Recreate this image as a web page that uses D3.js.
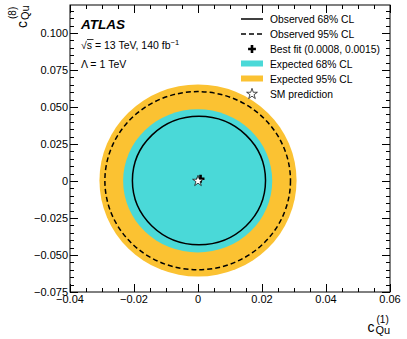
<!DOCTYPE html>
<html><head><meta charset="utf-8">
<script src="https://cdn.jsdelivr.net/npm/d3@7"></script>
<style>
body{margin:0;background:#fff;}
svg{display:block;font-family:"Liberation Sans",Arial,Helvetica,sans-serif;}
</style></head>
<body>
<svg id="c" width="407" height="339"></svg>
<script>
// ---- data ----
const xTicks = [-0.04, -0.02, 0, 0.02, 0.04, 0.06];
const xTickLabels = ["\u22120.04", "\u22120.02", "0", "0.02", "0.04", "0.06"];
const yTicks = [-0.075, -0.05, -0.025, 0, 0.025, 0.05, 0.075, 0.1];
const yTickLabels = ["\u22120.075", "\u22120.050", "\u22120.025", "0", "0.025", "0.050", "0.075", "0.100"];

// contours (ellipses): expected 95, expected 68, observed 95, observed 68
const contourNames = ["Expected 95% CL", "Expected 68% CL", "Observed 95% CL", "Observed 68% CL"];
const contourCx = [0.0000, -0.0001, -0.0001, 0.0003];
const contourCy = [0.0003, 0.0001, 0.0002, 0.0003];
const contourRx = [0.0308, 0.0233, 0.0290, 0.0208];
const contourRy = [0.0649, 0.0484, 0.0602, 0.0434];

const bestFit = [0.0008, 0.0015];
const smPoint = [0, 0];

const legendLabels = ["Observed 68% CL", "Observed 95% CL", "Best fit (0.0008, 0.0015)", "Expected 68% CL", "Expected 95% CL", "SM prediction"];

// ---- drawing ----
const cyan = "#4ad9d8", orange = "#fbc232";
const svg = d3.select("#c");
const L = 70, R = 390, T = 5, B = 292;
const x = d3.scaleLinear().domain([-0.04, 0.06]).range([L, R]);
const y = d3.scaleLinear().domain([-0.075, 0.1 + 28 / 1480]).range([B, T]);

const g = svg.append("g");
const fills = [orange, cyan];
[0, 1].forEach(i => {
  g.append("ellipse")
    .attr("cx", x(contourCx[i])).attr("cy", y(contourCy[i]))
    .attr("rx", x(contourRx[i]) - x(0)).attr("ry", y(0) - y(contourRy[i]))
    .attr("fill", fills[i]);
});
g.append("ellipse")
  .attr("cx", x(contourCx[2])).attr("cy", y(contourCy[2]))
  .attr("rx", x(contourRx[2]) - x(0)).attr("ry", y(0) - y(contourRy[2]))
  .attr("fill", "none").attr("stroke", "#000").attr("stroke-width", 1.5)
  .attr("stroke-dasharray", "5,3");
g.append("ellipse")
  .attr("cx", x(contourCx[3])).attr("cy", y(contourCy[3]))
  .attr("rx", x(contourRx[3]) - x(0)).attr("ry", y(0) - y(contourRy[3]))
  .attr("fill", "none").attr("stroke", "#000").attr("stroke-width", 1.5);

const cross = d3.symbol().type(d3.symbolCross).size(34);
const star = d3.symbol().type(d3.symbolStar).size(36);
g.append("path").attr("d", cross()).attr("transform", `translate(${x(bestFit[0])},${y(bestFit[1])})`).attr("fill", "#000");
g.append("path").attr("d", star()).attr("transform", `translate(${x(smPoint[0])},${y(smPoint[1])})`)
  .attr("fill", "#fff").attr("stroke", "#000").attr("stroke-width", 0.7);

svg.append("rect").attr("x", L).attr("y", T).attr("width", R - L).attr("height", B - T)
  .attr("fill", "none").attr("stroke", "#000").attr("stroke-width", 1);

const ax = svg.append("g").attr("stroke", "#000").attr("stroke-width", 1);
const xMinor = d3.range(-0.04, 0.0601, 0.005);
xMinor.forEach(v => {
  const isMajor = Math.abs(Math.round(v / 0.02) * 0.02 - v) < 1e-9;
  const len = isMajor ? 8 : 4;
  const px = Math.round(x(v)) + 0.5;
  ax.append("line").attr("x1", px).attr("x2", px).attr("y1", B).attr("y2", B - len);
  ax.append("line").attr("x1", px).attr("x2", px).attr("y1", T).attr("y2", T + len);
});
const yMinor = d3.range(-0.075, 0.1189, 0.005);
yMinor.forEach(v => {
  const isMajor = Math.abs(Math.round(v / 0.025) * 0.025 - v) < 1e-9;
  const len = isMajor ? 8 : 4;
  const py = Math.round(y(v)) + 0.5;
  ax.append("line").attr("y1", py).attr("y2", py).attr("x1", L).attr("x2", L + len);
  ax.append("line").attr("y1", py).attr("y2", py).attr("x1", R).attr("x2", R - len);
});

const tl = svg.append("g").attr("font-size", 11).attr("fill", "#000");
xTicks.forEach((v, i) => {
  tl.append("text").attr("x", x(v)).attr("y", 303).attr("text-anchor", "middle").text(xTickLabels[i]);
});
yTicks.forEach((v, i) => {
  tl.append("text").attr("x", 68).attr("y", y(v) + 4).attr("text-anchor", "end").text(yTickLabels[i]);
});

const xt = svg.append("g");
xt.append("text").attr("x", 367.5).attr("y", 332).attr("font-size", 14).text("c");
xt.append("text").attr("x", 375.5).attr("y", 334).attr("font-size", 11).text("Qu");
xt.append("text").attr("x", 376.5).attr("y", 323).attr("font-size", 10).text("(1)");

const yt = svg.append("g").attr("transform", "translate(27,28) rotate(-90)");
yt.append("text").attr("x", 0).attr("y", 0).attr("font-size", 14).text("c");
yt.append("text").attr("x", 8).attr("y", 2).attr("font-size", 11).text("Qu");
yt.append("text").attr("x", 9).attr("y", -11).attr("font-size", 10).text("(8)");

svg.append("text").attr("x", 81).attr("y", 29).attr("font-size", 13.5)
  .attr("font-weight", "bold").attr("font-style", "italic").text("ATLAS");
const t2 = svg.append("text").attr("x", 81).attr("y", 48.5).attr("font-size", 10.5);
t2.append("tspan").text("\u221As = 13 TeV, 140 fb");
t2.append("tspan").attr("font-size", 7.5).attr("dy", -4).text("\u22121");
svg.append("line").attr("x1", 87).attr("x2", 93.5).attr("y1", 39.5).attr("y2", 39.5).attr("stroke", "#000").attr("stroke-width", 0.8);
svg.append("text").attr("x", 81).attr("y", 68).attr("font-size", 10.5).text("\u039B = 1 TeV");

const lg = svg.append("g");
const lx1 = 241, lx2 = 263, ltx = 270;
legendLabels.forEach((lab, i) => {
  const cy = 19 + i * 15;
  lg.append("text").attr("x", ltx).attr("y", cy + 3.8).attr("font-size", 10.3).text(lab);
});
lg.append("line").attr("x1", lx1).attr("x2", lx2).attr("y1", 19).attr("y2", 19).attr("stroke", "#000").attr("stroke-width", 1.5);
lg.append("line").attr("x1", lx1).attr("x2", lx2).attr("y1", 34).attr("y2", 34).attr("stroke", "#000").attr("stroke-width", 1.5).attr("stroke-dasharray", "5,3");
lg.append("path").attr("d", cross()).attr("transform", `translate(252,49)`).attr("fill", "#000");
lg.append("rect").attr("x", lx1).attr("y", 60.5).attr("width", lx2 - lx1).attr("height", 6).attr("fill", cyan);
lg.append("rect").attr("x", lx1).attr("y", 75.5).attr("width", lx2 - lx1).attr("height", 6).attr("fill", orange);
lg.append("path").attr("d", star()).attr("transform", `translate(252,94)`).attr("fill", "#fff").attr("stroke", "#000").attr("stroke-width", 0.7);
</script>
</body></html>
